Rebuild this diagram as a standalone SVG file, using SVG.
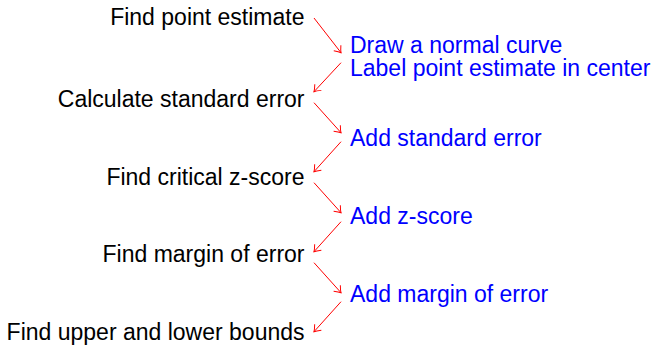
<svg xmlns="http://www.w3.org/2000/svg" width="660" height="346" viewBox="0 0 660 346">
<style>
.l{font-family:"Liberation Sans",Arial,sans-serif;font-size:23px;fill:#000;text-anchor:end}
.r{font-family:"Liberation Sans",Arial,sans-serif;font-size:23px;fill:#0000ff}
.c line{stroke:#ff0000;stroke-width:1;fill:none;marker-end:url(#ah)}
</style>
<defs>
<marker id="ah" markerUnits="userSpaceOnUse" markerWidth="14" markerHeight="14" refX="0" refY="0" viewBox="-8 -7 10 14" orient="auto" overflow="visible">
<path d="M-6,-4.5 Q-2,-1 0,0 Q-2,1 -6,4.5" fill="none" stroke="#ff0000" stroke-width="1"/>
</marker>
</defs>
<rect width="660" height="346" fill="#fff"/>
<g id="n1"><text class="l" x="304.5" y="24.5">Find point estimate</text></g>
<g id="n2"><text class="l" x="304.5" y="106.5">Calculate standard error</text></g>
<g id="n3"><text class="l" x="304.5" y="184.5">Find critical z-score</text></g>
<g id="n4"><text class="l" x="304.5" y="262">Find margin of error</text></g>
<g id="n5"><text class="l" x="304.5" y="340">Find upper and lower bounds</text></g>
<g id="m1"><text class="r" x="350" y="52.7">Draw a normal curve</text><text class="r" x="350" y="76">Label point estimate in center</text></g>
<g id="m2"><text class="r" x="350" y="146">Add standard error</text></g>
<g id="m3"><text class="r" x="350" y="224">Add z-score</text></g>
<g id="m4"><text class="r" x="350" y="302">Add margin of error</text></g>
<g class="c" id="connectors">
<line x1="314" y1="18" x2="341" y2="52.7"/>
<line x1="341" y1="62.7" x2="314" y2="91.7"/>
<line x1="314" y1="102.7" x2="341" y2="132.7"/>
<line x1="341" y1="141.7" x2="314" y2="171.7"/>
<line x1="314" y1="182.7" x2="341" y2="212.7"/>
<line x1="341" y1="221.7" x2="314" y2="251.7"/>
<line x1="314" y1="262.7" x2="341" y2="292.7"/>
<line x1="341" y1="301.7" x2="314" y2="331.7"/>
</g>
</svg>
